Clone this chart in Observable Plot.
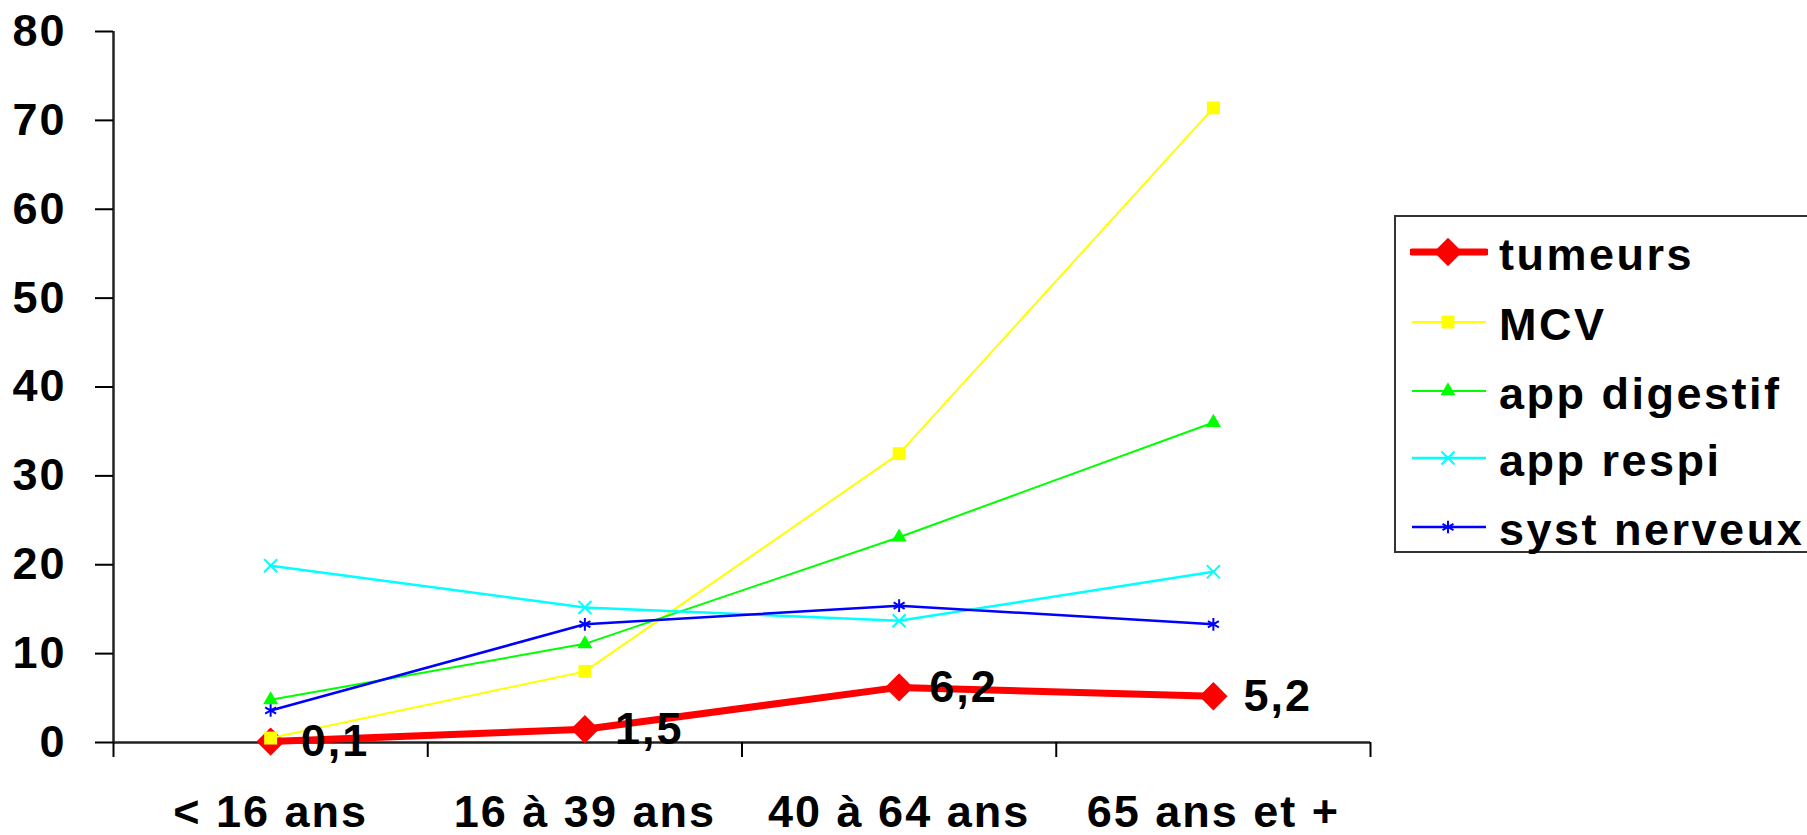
<!DOCTYPE html>
<html>
<head>
<meta charset="utf-8">
<script src="https://cdn.jsdelivr.net/npm/d3@7"></script>
<script src="https://cdn.jsdelivr.net/npm/@observablehq/plot@0.6"></script>
<style>
  html, body { margin: 0; padding: 0; background: #fff; width: 1807px; height: 835px; overflow: hidden; }
  #chart { position: absolute; left: 0; top: 0; }
  #legend { position: absolute; left: 1394px; top: 215px; width: 440px; height: 338px; border: 2px solid #333; box-sizing: border-box; background: #fff; }
  .entry { position: absolute; left: 14px; height: 40px; display: flex; align-items: center; }
  .entry span { font-family: "Liberation Sans", Arial, sans-serif; font-weight: bold; font-size: 45px; letter-spacing: 2.5px; line-height: 1; margin-left: 11px; position: relative; top: 2px; color: #000; white-space: nowrap; }
</style>
</head>
<body>
<div id="chart"></div>
<div id="legend"></div>
<script>
// ---- data ----
const categories = ["< 16 ans", "16 à 39 ans", "40 à 64 ans", "65 ans et +"];
const seriesNames = ["tumeurs", "MCV", "app digestif", "app respi", "syst nerveux"];
const tumeurs  = [0.1, 1.5, 6.2, 5.2];
const mcv      = [0.5, 8.0, 32.5, 71.4];
const digestif = [4.8, 11.1, 23.1, 36.0];
const respi    = [19.9, 15.2, 13.7, 19.2];
const nerveux  = [3.6, 13.3, 15.4, 13.3];
const yTicks   = [0, 10, 20, 30, 40, 50, 60, 70, 80];

// ---- styles ----
const styles = [
  {values: tumeurs,  color: "#FF0000", symbol: "diamond2", r: 12.8, width: 7,   filled: true},
  {values: mcv,      color: "#FFFF00", symbol: "square",   r: 7.3,  width: 2,   filled: true},
  {values: digestif, color: "#00FF00", symbol: "triangle", r: 5.6,  width: 2,   filled: true},
  {values: respi,    color: "#00FFFF", symbol: "times",    r: 6,    width: 2.5, filled: false},
  {values: nerveux,  color: "#0000FF", symbol: "asterisk", r: 6,    width: 2.5, filled: false}
];

const rows = s => s.values.map((v, i) => ({i, v}));
const bandEdges = d3.range(categories.length + 1).map(k => k - 0.5);

const marks = [];
// axis lines
marks.push(Plot.ruleX([-0.5], {stroke: "#222", strokeWidth: 2.5}));
marks.push(Plot.ruleY([0], {stroke: "#222", strokeWidth: 2.5}));
marks.push(Plot.axisX({ticks: bandEdges, tickSize: 15, tickFormat: () => "", strokeWidth: 2, label: null}));
marks.push(Plot.axisX({ticks: d3.range(categories.length), tickSize: 0, tickPadding: 53, tickFormat: i => categories[i], label: null}));
marks.push(Plot.axisY({ticks: yTicks, tickSize: 18, tickPadding: 29, strokeWidth: 2, label: null}));

styles.forEach(s => {
  marks.push(Plot.line(rows(s), {x: "i", y: "v", stroke: s.color, strokeWidth: s.width}));
  marks.push(Plot.dot(rows(s), s.filled
    ? {x: "i", y: "v", symbol: () => s.symbol, r: s.r, fill: s.color, stroke: "none"}
    : {x: "i", y: "v", symbol: () => s.symbol, r: s.r, fill: "none", stroke: s.color, strokeWidth: 2}));
});
marks.push(Plot.text(rows(styles[0]), {x: "i", y: "v", text: d => String(d.v).replace(".", ","), textAnchor: "start", dx: 30, fill: "#000"}));

const chart = Plot.plot({
  width: 1807,
  height: 835,
  marginLeft: 113,
  marginRight: 437,
  marginTop: 31,
  marginBottom: 93,
  x: {type: "linear", domain: [-0.5, categories.length - 0.5], axis: null},
  y: {type: "linear", domain: [0, 80], axis: null},
  symbol: {type: "identity"},
  style: {fontFamily: "'Liberation Sans', Arial, sans-serif", fontSize: "45px", fontWeight: "bold", letterSpacing: "2px", color: "#000", background: "#fff", overflow: "visible"},
  marks
});
document.getElementById("chart").appendChild(chart);

// ---- legend ----
const symMap = {diamond2: d3.symbolDiamond2, square: d3.symbolSquare, triangle: d3.symbolTriangle, times: d3.symbolTimes, asterisk: d3.symbolAsterisk};
const legend = document.getElementById("legend");
const centers = [252, 322, 391, 458, 527];
styles.forEach((s, k) => {
  const e = document.createElement("div");
  e.className = "entry";
  e.style.top = (centers[k] - 215 - 2 - 20) + "px";
  const svg = d3.create("svg").attr("width", 78).attr("height", 40);
  svg.append("line").attr("x1", 2).attr("x2", 76).attr("y1", 20).attr("y2", 20)
    .attr("stroke", s.color).attr("stroke-width", s.width).attr("stroke-linecap", k === 0 ? "round" : "butt");
  const p = d3.symbol(symMap[s.symbol], Math.PI * s.r * s.r)();
  svg.append("path").attr("d", p).attr("transform", "translate(38,20)")
    .attr("fill", s.filled ? s.color : "none").attr("stroke", s.filled ? "none" : s.color).attr("stroke-width", 2);
  e.appendChild(svg.node());
  const t = document.createElement("span");
  t.textContent = seriesNames[k];
  e.appendChild(t);
  legend.appendChild(e);
});
</script>
</body>
</html>
